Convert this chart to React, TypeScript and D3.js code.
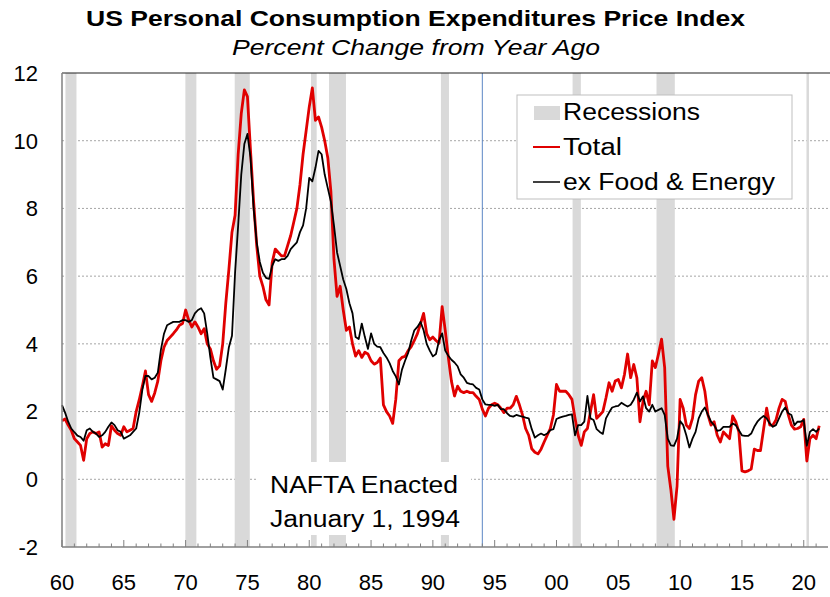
import React from "react";
import * as d3 from "d3";

// Quarterly year-over-year % change, starting 1960 Q1
const START_YEAR = 1960;
const totalValues = [
  1.73, 1.78, 1.6, 1.45,
  1.2, 1.1, 1.0, 0.56,
  1.2, 1.35, 1.4, 1.35,
  1.4, 0.95, 1.05, 1.0,
  1.58, 1.45, 1.35, 1.3,
  1.55, 1.4, 1.45, 1.5,
  2.0, 2.35, 2.75, 3.2,
  2.5, 2.3, 2.55, 2.9,
  3.5, 3.9, 4.1, 4.2,
  4.3, 4.41, 4.55, 4.6,
  5.0, 4.7, 4.5, 4.65,
  4.5, 4.3, 4.45, 4.0,
  3.85, 3.5, 3.25, 3.35,
  4.0, 5.2, 6.2, 7.3,
  7.8, 9.6, 10.8, 11.5,
  11.3, 9.7, 8.2, 6.9,
  6.0, 5.7, 5.3, 5.15,
  6.4, 6.8, 6.7, 6.6,
  6.6, 6.9, 7.2, 7.6,
  8.0, 8.7, 9.6, 10.3,
  11.0, 11.56, 10.6, 10.7,
  10.4, 10.0, 9.5, 8.5,
  6.5, 5.4, 5.7, 5.0,
  4.4, 4.5, 4.0, 3.64,
  3.8, 3.6, 3.75, 3.7,
  3.5, 3.4, 3.45, 3.58,
  2.2, 2.0, 1.87, 1.65,
  2.36, 3.5, 3.6, 3.63,
  3.8, 3.92, 4.1, 4.3,
  4.6, 4.9, 4.3, 4.12,
  4.2, 4.1, 4.02, 5.1,
  4.4, 3.6, 2.9, 2.46,
  2.75, 2.6, 2.56, 2.6,
  2.56, 2.56, 2.45, 2.36,
  2.07, 1.87, 2.1, 2.2,
  2.25, 2.2, 2.1, 1.97,
  2.1, 2.1, 2.2, 2.45,
  2.2, 1.9, 1.5, 1.3,
  0.9, 0.8, 0.75, 0.89,
  1.1, 1.3, 1.5, 1.9,
  2.8, 2.6, 2.6, 2.6,
  2.5, 2.36, 1.8, 1.3,
  1.0, 1.4, 1.5, 2.0,
  2.5, 1.8, 1.9, 2.0,
  2.4, 2.85, 2.6, 2.9,
  2.95, 2.7, 3.1, 3.7,
  3.0, 3.39, 3.0, 1.7,
  2.3, 2.6, 2.2, 3.5,
  3.3, 3.7, 4.14, 3.3,
  0.39, -0.3, -1.18, -0.2,
  2.36, 2.1, 1.6, 1.5,
  1.8, 2.5, 2.9, 3.0,
  2.6, 1.9, 1.6, 1.7,
  1.3, 1.1, 1.4, 1.3,
  1.2, 1.87, 1.7, 1.4,
  0.25, 0.22, 0.25, 0.3,
  0.89, 0.85, 0.85, 1.48,
  2.1, 1.6, 1.6, 1.75,
  2.1, 2.36, 2.3, 1.9,
  1.6, 1.48, 1.5, 1.55,
  1.77, 0.54, 1.2, 1.3,
  1.2, 1.58,
];
const coreValues = [
  2.19, 1.97, 1.7, 1.5,
  1.39, 1.29, 1.25, 1.14,
  1.45, 1.5, 1.4, 1.35,
  1.25, 1.3, 1.4, 1.55,
  1.68, 1.6, 1.45, 1.4,
  1.2, 1.25, 1.3, 1.4,
  1.5, 1.97, 2.65, 3.05,
  3.05, 2.95, 3.0, 3.15,
  3.82, 4.3, 4.55, 4.6,
  4.65, 4.65, 4.65, 4.7,
  4.7, 4.65, 4.7, 4.9,
  5.0, 5.05, 4.9, 4.3,
  3.6, 3.0, 2.95, 2.9,
  2.65, 3.25, 3.9, 4.24,
  6.1, 7.5, 9.0, 9.9,
  10.2, 9.5, 8.0, 7.0,
  6.42, 6.1, 5.95, 5.92,
  6.3, 6.5, 6.45, 6.5,
  6.5, 6.6, 6.8, 6.9,
  7.0, 7.3, 7.5, 8.0,
  8.9, 8.8, 9.2, 9.7,
  9.6, 9.0, 8.6, 8.2,
  7.5, 6.7, 6.3, 5.9,
  5.62, 5.2, 4.9, 4.2,
  4.14, 4.6, 4.2, 3.85,
  4.31, 4.0, 3.92, 3.9,
  3.73, 3.6, 3.43, 3.2,
  3.04, 2.8, 3.24, 3.5,
  3.73, 4.1, 4.4, 4.5,
  4.65, 4.4, 4.0, 3.8,
  3.63, 3.7, 4.1, 4.31,
  3.8, 3.65, 3.53, 3.45,
  3.34, 3.1, 3.0, 2.85,
  2.82, 2.8, 2.7, 2.65,
  2.36, 2.21, 2.2, 2.2,
  2.17, 2.2, 2.07, 2.07,
  1.95, 1.87, 1.85, 1.9,
  1.87, 1.85, 1.82, 1.8,
  1.48, 1.23, 1.3, 1.35,
  1.3, 1.35, 1.45, 1.48,
  1.78, 1.82, 1.85, 1.87,
  1.9, 1.92, 1.3, 1.6,
  1.6, 1.7, 2.46, 1.8,
  1.75, 1.48, 1.4, 1.34,
  1.8, 1.97, 2.12, 2.15,
  2.17, 2.26, 2.2, 2.15,
  2.2, 2.35, 2.56, 2.3,
  2.45, 2.1, 2.0, 2.2,
  2.0, 2.05, 2.1, 1.9,
  1.2, 1.0, 0.99, 1.2,
  1.72, 1.6, 1.3, 0.94,
  1.2, 1.4, 1.8, 2.0,
  2.12, 1.9, 1.7, 1.6,
  1.43, 1.45, 1.55, 1.55,
  1.55, 1.65, 1.6, 1.45,
  1.3, 1.28, 1.28, 1.35,
  1.55, 1.7, 1.8, 1.87,
  1.8, 1.65, 1.55, 1.6,
  1.8, 2.0, 2.12, 1.95,
  1.9, 1.6, 1.7, 1.7,
  1.75, 0.99, 1.4, 1.48,
  1.4, 1.5,
];

const recessionStarts = [1960.28, 1969.98, 1973.97, 1980.14, 1981.6, 1990.65, 2001.3, 2008.09, 2020.22];
const recessionEnds = [1961.17, 1970.87, 1975.19, 1980.6, 1982.97, 1991.3, 2001.97, 2009.57, 2020.42];

const yTicks = [-2, 0, 2, 4, 6, 8, 10, 12];
const xTickYears = [1960, 1965, 1970, 1975, 1980, 1985, 1990, 1995, 2000, 2005, 2010, 2015, 2020];
const xTickLabels = ["60", "65", "70", "75", "80", "85", "90", "95", "00", "05", "10", "15", "20"];

const TITLE = "US Personal Consumption Expenditures Price Index";
const SUBTITLE = "Percent Change from Year Ago";
const legendLabels = ["Recessions", "Total", "ex Food & Energy"];
const noteLines = ["NAFTA Enacted", "January 1, 1994"];
const NAFTA_YEAR = 1994;

const FONT = "'Liberation Sans', Arial, Helvetica, sans-serif";
const RED = "#e00000";

export default function App() {
  const W = 830, H = 597;
  const left = 62, right = 826, top = 73, bottom = 547;
  const x = d3.scaleLinear().domain([1960, 2021.8]).range([left, right]);
  const y = d3.scaleLinear().domain([-2, 12]).range([bottom, top]);

  const total = totalValues.map((v, i) => [START_YEAR + i / 4, v] as [number, number]);
  const core = coreValues.map((v, i) => [START_YEAR + i / 4, v] as [number, number]);
  const line = d3.line<[number, number]>().x(d => x(d[0])).y(d => y(d[1]));

  const years = d3.range(1960, 2022);

  return (
    <svg width={W} height={H} style={{ position: "absolute", left: 0, top: 0, background: "#fff" }} fontFamily={FONT}>
      <rect x={0} y={0} width={W} height={H} fill="#fff" />
      <text x={86} y={26} fontSize={22} fontWeight="bold" textLength={659} lengthAdjust="spacingAndGlyphs">{TITLE}</text>
      <text x={232} y={55} fontSize={22} fontStyle="italic" textLength={368} lengthAdjust="spacingAndGlyphs">{SUBTITLE}</text>

      {/* gridlines */}
      {yTicks.filter(t => t > -2 && t < 12).map(t => (
        <line key={"g" + t} x1={left} x2={right + 2} y1={y(t)} y2={y(t)} stroke="#a6a6a6" strokeWidth={1} strokeDasharray="2,2" />
      ))}

      {/* recessions */}
      {recessionStarts.map((s, i) => (
        <rect key={"r" + i} x={x(s)} y={top} width={Math.max(2.5, x(recessionEnds[i]) - x(s))} height={bottom - top} fill="#d9d9d9" />
      ))}

      {/* NAFTA line */}
      <line x1={x(NAFTA_YEAR)} x2={x(NAFTA_YEAR)} y1={top} y2={bottom} stroke="#5b86c5" strokeWidth={1} />

      {/* series */}
      <path d={line(total) || ""} fill="none" stroke={RED} strokeWidth={2.8} strokeLinejoin="round" />
      <path d={line(core) || ""} fill="none" stroke="#000" strokeWidth={1.8} strokeLinejoin="round" />

      {/* note box */}
      <rect x={256} y={462} width={215} height={73} fill="#fff" />
      <text x={270} y={493} fontSize={23} textLength={188} lengthAdjust="spacingAndGlyphs">{noteLines[0]}</text>
      <text x={270} y={527} fontSize={23} textLength={190} lengthAdjust="spacingAndGlyphs">{noteLines[1]}</text>

      {/* axes */}
      <line x1={left} x2={W} y1={top} y2={top} stroke="#222" strokeWidth={1.2} />
      <line x1={left} x2={left} y1={top} y2={bottom} stroke="#808080" strokeWidth={1.5} />
      <line x1={left} x2={right + 2} y1={bottom} y2={bottom} stroke="#808080" strokeWidth={1.5} />
      {years.map(yr => (
        <line key={"t" + yr} x1={x(yr)} x2={x(yr)} y1={bottom} y2={bottom - (yr % 5 === 0 ? 7 : 3.5)} stroke="#808080" strokeWidth={1} />
      ))}
      {yTicks.map(t => (
        <text key={"yl" + t} x={38} y={y(t)} dy="0.36em" fontSize={22} textAnchor="end">{t}</text>
      ))}
      {xTickYears.map((yr, i) => (
        <text key={"xl" + yr} x={x(yr)} y={590} fontSize={22} textAnchor="middle">{xTickLabels[i]}</text>
      ))}

      {/* legend */}
      <rect x={517} y={95} width={275} height={104} fill="#fff" stroke="#bfbfbf" strokeWidth={1} />
      <rect x={534} y={106} width={26} height={14} fill="#d9d9d9" />
      <line x1={533} x2={560} y1={147} y2={147} stroke={RED} strokeWidth={2} />
      <line x1={533} x2={560} y1={182} y2={182} stroke="#000" strokeWidth={1.5} />
      <text x={563} y={120} fontSize={23} textLength={137} lengthAdjust="spacingAndGlyphs">{legendLabels[0]}</text>
      <text x={563} y={155} fontSize={23} textLength={59} lengthAdjust="spacingAndGlyphs">{legendLabels[1]}</text>
      <text x={563} y={190} fontSize={23} textLength={212} lengthAdjust="spacingAndGlyphs">{legendLabels[2]}</text>
    </svg>
  );
}
